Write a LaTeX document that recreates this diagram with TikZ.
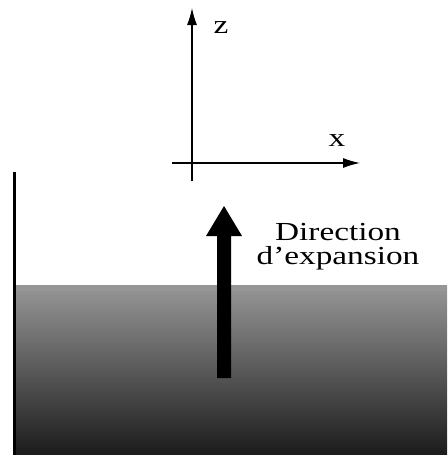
\documentclass[tikz,border=0pt]{standalone}
\usepackage{fontspec}
\setmainfont{Liberation Serif}
\usetikzlibrary{arrows.meta}
\newcommand{\wide}[1]{\scalebox{1.28}[1]{#1}}
\begin{document}
\begin{tikzpicture}[x=1pt,y=-1pt,
  axis/.style={line width=1.2pt,-{Latex[length=17pt,width=10pt]}},
  lbl/.style={font=\fontsize{26}{24}\selectfont,inner sep=0pt},
  bigarrow/.style={fill=black,draw=none}]
\useasboundingbox (0,0) rectangle (447,455);
% gradient block
\shade[top color=black!41,bottom color=black!89] (14,285) rectangle (447,454);
\fill[black!41] (14,285) rectangle (447,291);
% wall
\coordinate (wt) at (14,172);
\coordinate (wb) at (14,455);
\draw[line width=3pt] (wt) -- (wb);
% axes
\coordinate (o) at (192,163);
\coordinate (zb) at (192,181);
\coordinate (zt) at (192,8);
\coordinate (xl) at (172,163);
\coordinate (xr) at (360,163);
\draw[axis] (zb) -- (zt);
\draw[axis] (xl) -- (xr);
\node[lbl,anchor=base] (zl) at (221,33) {\wide{z}};
\node[lbl,anchor=base] (xlab) at (337,146) {\wide{x}};
% big arrow
\fill[bigarrow] (217,378) -- (217,236) -- (206,236) -- (224,206) -- (242,236) -- (231,236) -- (231,378) -- cycle;
\node[lbl,anchor=base] (dir1) at (338,240) {\wide{Direction}};
\node[lbl,anchor=base] (dir2) at (338,264) {\wide{d'expansion}};
\end{tikzpicture}
\end{document}
